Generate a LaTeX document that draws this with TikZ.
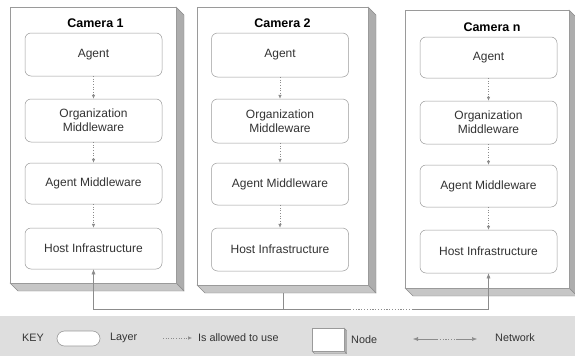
\documentclass[tikz,border=0pt]{standalone}
\usepackage{fontspec}
\setmainfont{Liberation Sans}
\usetikzlibrary{arrows.meta}

\definecolor{txt}{HTML}{333333}
\definecolor{edge}{HTML}{9A9A9A}
\definecolor{sidedark}{HTML}{ADADAD}
\definecolor{sidelight}{HTML}{C6C6C6}
\definecolor{keyband}{HTML}{DEDEDE}
\definecolor{wire}{HTML}{8C8C8C}

% extruded right and bottom faces of a box: x1 y1 x2 y2 depth
\newcommand{\boxdepth}[5]{%
  \filldraw[fill=sidedark, draw=wire, line width=0.4pt]
    (#3,#2) -- (#3+#5,#2+#5) -- (#3+#5,#4+#5) -- (#3,#4) -- cycle;
  \filldraw[fill=sidelight, draw=wire, line width=0.4pt]
    (#1,#4) -- (#3,#4) -- (#3+#5,#4+#5) -- (#1+#5,#4+#5) -- cycle;
}

\tikzset{
  nethead/.tip={Latex[length=5pt,width=4pt]},
  usehead/.tip={Latex[length=4pt,width=3.5pt]},
  camface/.style={draw=edge, fill=white, line width=0.5pt, inner sep=0pt},
  camtitle/.style={font=\fontsize{12.5}{14}\selectfont\bfseries, text=black, inner sep=0pt},
  layer/.style={draw=edge, fill=white, rounded corners=6pt, line width=0.5pt,
    minimum width=137pt, inner sep=0pt, align=center, text=txt,
    font=\fontsize{12}{14}\selectfont},
  uses/.style={draw=wire, line width=0.5pt, dash pattern=on 1pt off 1.6pt, -usehead},
  net/.style={draw=wire, line width=0.5pt},
  keytext/.style={inner sep=0pt, anchor=west, text=txt,
    font=\fontsize{10.8}{12}\selectfont},
}

\begin{document}
\begin{tikzpicture}[x=1pt, y=-1pt]
\useasboundingbox (0,0) rectangle (575,356);

% ---- camera bodies ----
\boxdepth{10}{7}{176}{283}{8}
\node[camface, minimum width=166pt, minimum height=276pt] (cam1) at (93,145) {};
\boxdepth{197}{7}{368}{285}{8}
\node[camface, minimum width=171pt, minimum height=278pt] (cam2) at (282.5,146) {};
\boxdepth{405}{10}{569}{288}{8}
\node[camface, minimum width=164pt, minimum height=278pt] (cam3) at (487,149) {};

\node[camtitle] (t1) at (95.5,23.5) {Camera 1};
\node[camtitle] (t2) at (282.5,23.5) {Camera 2};
\node[camtitle] (t3) at (492,27) {Camera n};

% ---- layers of camera 1 ----
\node[layer, minimum height=43pt] (a1) at (93.5,54.5) {Agent};
\node[layer, minimum height=43pt] (o1) at (93.5,120.5) {Organization\\Middleware};
\node[layer, minimum height=41pt] (m1) at (93.5,183.5) {Agent Middleware};
\node[layer, minimum height=41pt] (h1) at (93.5,248.5) {Host Infrastructure};

% ---- layers of camera 2 ----
\node[layer, minimum height=44pt] (a2) at (280,55) {Agent};
\node[layer, minimum height=44pt] (o2) at (280,121) {Organization\\Middleware};
\node[layer, minimum height=42pt] (m2) at (280,184) {Agent Middleware};
\node[layer, minimum height=43pt] (h2) at (280,249.5) {Host Infrastructure};

% ---- layers of camera n ----
\node[layer, minimum height=41pt] (a3) at (488.5,57.5) {Agent};
\node[layer, minimum height=43pt] (o3) at (488.5,122.5) {Organization\\Middleware};
\node[layer, minimum height=42pt] (m3) at (488.5,186) {Agent Middleware};
\node[layer, minimum height=43pt] (h3) at (488.5,251.5) {Host Infrastructure};

% ---- "is allowed to use" relations ----
\foreach \c in {1,2,3} {
  \draw[uses] (a\c) -- (o\c);
  \draw[uses] (o\c) -- (m\c);
  \draw[uses] (m\c) -- (h\c);
}

% ---- network ----
\coordinate (bus1) at (93.5,309);
\coordinate (gapA) at (350,309);
\coordinate (gapB) at (412,309);
\coordinate (bus3) at (488.5,309);
\coordinate (c2foot) at (283,293);
\draw[net, nethead-] (h1.south) -- (bus1) -- (gapA);
\draw[net, dash pattern=on 1.2pt off 1.6pt] (gapA) -- (gapB);
\draw[net, -nethead] (gapB) -- (bus3) -- (h3.south);
\draw[net] (c2foot) -- (c2foot |- bus1);

% ---- key ----
\node[fill=keyband, minimum width=575pt, minimum height=40pt, inner sep=0pt,
  anchor=north west] (key) at (0,316) {};
\node[keytext] (kkey) at (22,338) {KEY};
\node[draw=edge, fill=white, rounded corners=7.5pt, line width=0.6pt,
  minimum width=43pt, minimum height=15pt, inner sep=0pt] (klayer) at (78.5,338.5) {};
\node[keytext] (klayertxt) at (110,338) {Layer};
\coordinate (kuA) at (163,338);
\coordinate (kuB) at (192,338);
\draw[uses] (kuA) -- (kuB);
\node[keytext] (kusetxt) at (198,338) {Is allowed to use};
\boxdepth{312}{328}{344}{351}{2.5}
\node[draw=edge, fill=white, line width=0.5pt, minimum width=32pt,
  minimum height=23pt, inner sep=0pt] (knode) at (328,339.5) {};
\node[keytext] (knodetxt) at (351,340) {Node};
\coordinate (knA) at (413,339);
\coordinate (knB) at (437,339);
\coordinate (knC) at (456,339);
\coordinate (knD) at (477,339);
\draw[net, nethead-] (knA) -- (knB);
\draw[net, dash pattern=on 1.2pt off 1.6pt] (knB) -- (knC);
\draw[net, -nethead] (knC) -- (knD);
\node[keytext] (knettxt) at (495,338) {Network};
\end{tikzpicture}
\end{document}
